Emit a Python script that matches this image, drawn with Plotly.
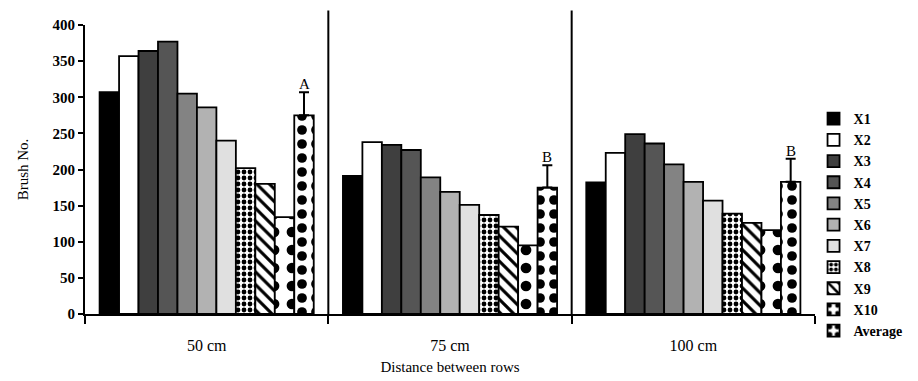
import plotly.graph_objects as go

categories = ["50 cm", "75 cm", "100 cm"]
series_names = ["X1", "X2", "X3", "X4", "X5", "X6", "X7", "X8", "X9", "X10", "Average"]
X1 = [307, 191, 182]
X2 = [357, 238, 223]
X3 = [364, 234, 249]
X4 = [377, 227, 236]
X5 = [305, 189, 207]
X6 = [286, 169, 183]
X7 = [240, 151, 157]
X8 = [202, 137, 139]
X9 = [180, 121, 126]
X10 = [134, 95, 116]
Average = [275, 175, 183]
avg_err = [32, 31, 32]
letters = ["A", "B", "B"]

values = [X1, X2, X3, X4, X5, X6, X7, X8, X9, X10, Average]
fills = ["#000000", "#ffffff", "#3f3f3f", "#555555", "#838383", "#b2b2b2", "#e0e0e0",
         "#ffffff", "#ffffff", "#ffffff", "#ffffff"]
patterns = [None, None, None, None, None, None, None,
            dict(shape=".", fgcolor="#000000", size=6, solidity=0.5),
            dict(shape="\\", fgcolor="#000000", size=9, solidity=0.35),
            dict(shape=".", fgcolor="#000000", size=18, solidity=0.28),
            dict(shape=".", fgcolor="#000000", size=14, solidity=0.38)]

FONT = "Liberation Serif"
fig = go.Figure()
for name, vals, col, pat in zip(series_names, values, fills, patterns):
    marker = dict(color=col, line=dict(color="#000000", width=1.8))
    if pat is not None:
        marker["pattern"] = dict(pat, bgcolor="#ffffff", fillmode="overlay", fgopacity=1)
    kw = {}
    if name == "Average":
        kw["error_y"] = dict(type="data", symmetric=False, array=avg_err,
                             arrayminus=[0, 0, 0], color="#000000", thickness=2, width=5)
    fig.add_trace(go.Bar(name=name, x=categories, y=vals, marker=marker, **kw))

nb = len(series_names)
bargap = 0.12
bw = (1 - bargap) / nb
off = (nb - 1) / 2 * bw
for i, (a, e, t) in enumerate(zip(Average, avg_err, letters)):
    fig.add_annotation(x=i + off, y=a + e, text=t, showarrow=False, yanchor="bottom",
                       yshift=-2, font=dict(family=FONT, size=15, color="#000"))

for b in [0.5, 1.5]:
    fig.add_shape(type="line", xref="x", yref="paper", x0=b, x1=b, y0=0, y1=1.05,
                  line=dict(color="#000000", width=2))

fig.update_layout(
    width=918, height=381,
    margin=dict(l=85, r=103, t=25, b=67, autoexpand=False),
    barmode="group", bargap=bargap, bargroupgap=0,
    plot_bgcolor="#ffffff", paper_bgcolor="#ffffff",
    font=dict(family=FONT, color="#000000", size=14),
    showlegend=True,
    legend=dict(x=0.998, y=0.73, xanchor="left", yanchor="top",
                font=dict(family=FONT, size=14, weight="bold"),
                itemwidth=30, tracegroupgap=0, bgcolor="rgba(0,0,0,0)"),
)
fig.update_xaxes(showline=True, linecolor="#000000", linewidth=2, ticks="outside",
                 tickson="boundaries", ticklen=8, tickwidth=2, tickcolor="#000",
                 ticklabelstandoff=16, automargin=False,
                 tickfont=dict(family=FONT, size=16),
                 title=dict(text="Distance between rows", font=dict(family=FONT, size=15), standoff=8),
                 range=[-0.5, 2.5])
fig.update_yaxes(showline=True, linecolor="#000000", linewidth=2, ticks="outside",
                 ticklen=5, tickwidth=2, tickcolor="#000", range=[0, 400], dtick=50,
                 showgrid=False, zeroline=False, automargin=False,
                 tickfont=dict(family=FONT, size=15, weight="bold"),
                 title=dict(text="Brush No.", font=dict(family=FONT, size=15), standoff=20))

fig.write_html("out.html")
